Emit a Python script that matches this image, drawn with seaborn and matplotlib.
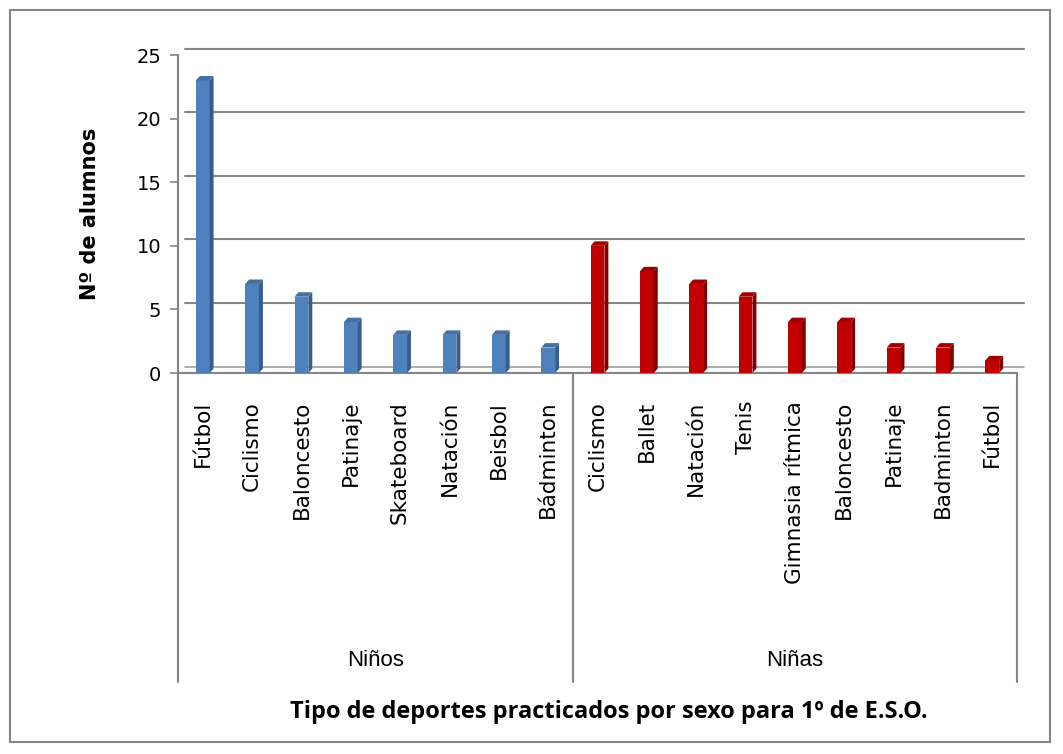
import numpy as np
import pandas as pd
import seaborn as sns
import matplotlib.pyplot as plt
from matplotlib.patches import Polygon, Rectangle
from matplotlib.transforms import blended_transform_factory

sns.set_theme(style='white')
plt.rcParams['font.family'] = ['DejaVu Sans']
plt.rcParams['text.color'] = 'black'
plt.rcParams['axes.labelcolor'] = 'black'
plt.rcParams['xtick.color'] = 'black'
plt.rcParams['ytick.color'] = 'black'

# datos
ninos_deportes = ['Fútbol', 'Ciclismo', 'Baloncesto', 'Patinaje', 'Skateboard',
                  'Natación', 'Beisbol', 'Bádminton']
ninos_alumnos = [23, 7, 6, 4, 3, 3, 3, 2]
ninas_deportes = ['Ciclismo', 'Ballet', 'Natación', 'Tenis', 'Gimnasia rítmica',
                  'Baloncesto', 'Patinaje', 'Badminton', 'Fútbol']
ninas_alumnos = [10, 8, 7, 6, 4, 4, 2, 2, 1]
grupos = ['Niños', 'Niñas']

colores = {'Niños': '#4F81BD', 'Niñas': '#C00000'}
colores_lado = {'Niños': '#385D8A', 'Niñas': '#800000'}
colores_techo = {'Niños': '#44709F', 'Niñas': '#A00000'}

deportes = ninos_deportes + ninas_deportes
df = pd.DataFrame({
    'pos': np.arange(len(deportes)),
    'deporte': deportes,
    'alumnos': ninos_alumnos + ninas_alumnos,
    'sexo': ['Niños'] * len(ninos_deportes) + ['Niñas'] * len(ninas_deportes),
})

fig = plt.figure(figsize=(10.63, 7.54), dpi=100)
ax = fig.add_axes([0.1675, 0.5053, 0.7892, 0.4217])

sns.barplot(data=df, x='pos', y='alumnos', hue='sexo', palette=colores,
            dodge=False, width=0.28, legend=False, ax=ax, saturation=1, zorder=3,
            linewidth=0, edgecolor='none')

# efecto 3D sencillo: cara lateral y superior de cada barra
dx, dy = 0.08, 0.35
for p, s in zip(ax.patches, df['sexo']):
    x0, w, h = p.get_x(), p.get_width(), p.get_height()
    x1 = x0 + w
    ax.add_patch(Polygon([(x1, 0), (x1 + dx, dy), (x1 + dx, h + dy), (x1, h)],
                         closed=True, facecolor=colores_lado[s], edgecolor='none', zorder=3))
    ax.add_patch(Polygon([(x0, h), (x0 + dx, h + dy), (x1 + dx, h + dy), (x1, h)],
                         closed=True, facecolor=colores_techo[s], edgecolor='none', zorder=3))

ax.set_xlim(-0.5, len(deportes) - 0.5)
ax.set_ylim(0, 25)
ax.set_yticks(range(0, 26, 5))
for v in range(5, 26, 5):
    ax.plot([-0.35, len(deportes) - 0.35], [v + 0.5, v + 0.5], color='#868686', lw=1.5, zorder=1, clip_on=False)
ax.plot([-0.35, len(deportes) - 0.35], [0.5, 0.5], color='#A0A0A0', lw=1.2, zorder=1, clip_on=False)

ax.set_xticks(df['pos'])
ax.set_xticklabels(df['deporte'], rotation=90, va='top', fontsize=15.5)
ax.tick_params(axis='x', length=0, pad=20)
ax.tick_params(axis='y', left=True, length=6, width=1.2, color='#868686', labelsize=14, pad=6)

for lado in ['top', 'right']:
    ax.spines[lado].set_visible(False)
for lado in ['left', 'bottom']:
    ax.spines[lado].set_color('#868686')
    ax.spines[lado].set_linewidth(1.5)

ax.set_xlabel('')
ax.set_ylabel('Nº de alumnos', fontsize=15, fontweight='bold', labelpad=26)

# separadores y etiquetas de grupo
trans = blended_transform_factory(ax.transData, fig.transFigure)
y_fin = 1 - 682 / 754
for xs in [-0.5, len(ninos_deportes) - 0.5, len(deportes) - 0.5]:
    ax.plot([xs, xs], [1 - 373 / 754, y_fin], color='#868686', lw=1.5,
            transform=trans, clip_on=False)
centros = [(len(ninos_deportes) - 1) / 2, len(ninos_deportes) + (len(ninas_deportes) - 1) / 2]
for g, c in zip(grupos, centros):
    ax.text(c, 1 - 660 / 754, g, transform=trans, ha='center', va='center',
            fontsize=16, family='Liberation Sans')

fig.text(0.573, 1 - 712 / 754, 'Tipo de deportes practicados por sexo para 1º de E.S.O.',
         ha='center', va='center', fontsize=17, fontweight='bold', family='Open Sans')

# marco exterior
fig.patches.append(Rectangle((10 / 1063, 12 / 754), 1040 / 1063, 732 / 754,
                             transform=fig.transFigure, fill=False,
                             edgecolor='#868686', lw=1.5))

plt.savefig('out.png', dpi=100)
